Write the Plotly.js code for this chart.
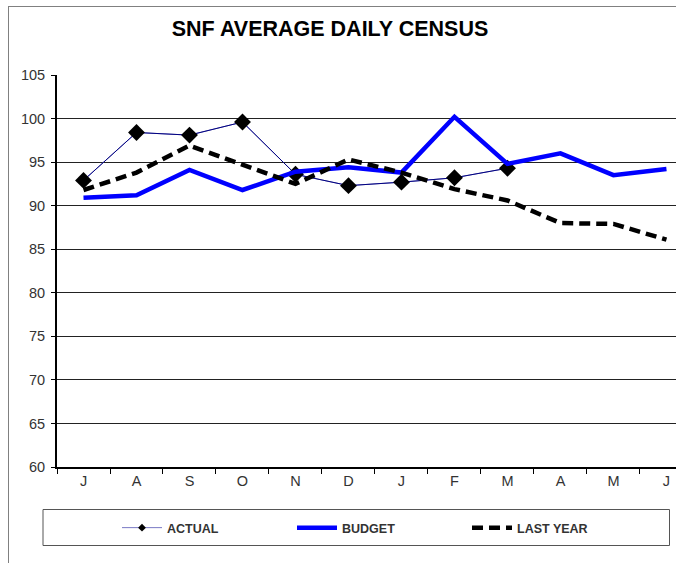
<!DOCTYPE html>
<html>
<head>
<meta charset="utf-8">
<script src="https://cdn.plot.ly/plotly-3.0.1.min.js"></script>
<style>
html,body{margin:0;padding:0;overflow:hidden;background:#fff;}
#wrap{position:relative;width:676px;height:563px;overflow:hidden;}
#chart{position:absolute;left:0;top:0;width:676px;height:563px;}
#frame{position:absolute;left:8px;top:6px;width:800px;height:700px;border-left:1px solid #808080;border-top:1px solid #808080;pointer-events:none;}
</style>
</head>
<body>
<div id="wrap">
<div id="chart"></div>
<div id="frame"></div>
</div>
<script>
var months = ["J","A","S","O","N","D","J ","F","M","A ","M ","J  "];
var monthLabels = ["J","A","S","O","N","D","J","F","M","A","M","J"];
var actual = [92.9, 98.4, 98.1, 99.6, 93.6, 92.3, 92.7, 93.2, 94.3];
var budget = [90.9, 91.2, 94.1, 91.8, 93.9, 94.4, 93.8, 100.2, 94.8, 96.0, 93.5, 94.2];
var lastYear = [91.8, 93.8, 96.9, 94.7, 92.5, 95.3, 93.8, 91.9, 90.6, 88.0, 87.9, 86.1];
var yTicks = [60, 65, 70, 75, 80, 85, 90, 95, 100, 105];

var traces = [
  {x: months.slice(0, actual.length), y: actual, name: "ACTUAL", type: "scatter", mode: "lines+markers",
   legendgroup: "a", showlegend: true,
   line: {color: "#7878c4", width: 1},
   marker: {symbol: "diamond", size: 6, color: "#000000", line: {width: 0}}},
  {x: months.slice(0, actual.length), y: actual, name: "ACTUAL", type: "scatter", mode: "lines+markers",
   legendgroup: "a", showlegend: false,
   line: {color: "#000080", width: 1},
   marker: {symbol: "diamond", size: 13, color: "#000000", line: {width: 0}}},
  {x: months, y: budget, name: "BUDGET", type: "scatter", mode: "lines",
   line: {color: "#0000FF", width: 4.5}},
  {x: months, y: lastYear, name: "LAST YEAR", type: "scatter", mode: "lines",
   line: {color: "#000000", width: 4.5, dash: "11px,6px"}}
];

var layout = {
  width: 676, height: 563,
  paper_bgcolor: "#ffffff", plot_bgcolor: "#ffffff",
  margin: {l: 57, r: 0, t: 75, b: 96, pad: 0},
  font: {family: "Liberation Sans, Arial, sans-serif", color: "#333333"},
  title: {text: "<b>SNF AVERAGE DAILY CENSUS</b>", font: {size: 21.5, color: "#000000"},
          x: 330/676, xref: "container", xanchor: "center", y: 1 - 28/563, yanchor: "middle"},
  xaxis: {type: "category", categoryorder: "array", categoryarray: months,
          tickmode: "array", tickvals: months, ticktext: monthLabels,
          range: [-0.5, 11.18], tickson: "boundaries",
          ticks: "outside", ticklen: 5, tickcolor: "#000", tickwidth: 1,
          showline: true, linecolor: "#000", linewidth: 2,
          showgrid: false, zeroline: false,
          tickfont: {size: 14.5, color: "#333333"}},
  yaxis: {range: [60, 105], tickmode: "array", tickvals: yTicks,
          ticks: "outside", ticklen: 4, tickcolor: "#000", tickwidth: 1,
          showline: true, linecolor: "#000", linewidth: 2,
          showgrid: true, gridcolor: "#222222", gridwidth: 1, zeroline: false,
          ticklabelstandoff: 3,
          tickfont: {size: 14.5, color: "#333333"}},
  showlegend: true,
  legend: {orientation: "h", x: (117 - 57)/619, xanchor: "left", y: 1 - (528 - 75)/392, yanchor: "middle",
           bgcolor: "rgba(0,0,0,0)", borderwidth: 0, entrywidth: 120, entrywidthmode: "pixels",
           itemwidth: 40, traceorder: "normal",
           font: {size: 12.5, color: "#333333", weight: "bold"}},
  shapes: [
    {type: "rect", xref: "paper", yref: "paper",
     x0: (43 - 57)/619, x1: (669.5 - 57)/619, y0: 1 - (545.5 - 75)/392, y1: 1 - (509.5 - 75)/392,
     line: {color: "#555555", width: 1}, fillcolor: "rgba(0,0,0,0)", layer: "below"}
  ]
};

Plotly.newPlot("chart", traces, layout, {staticPlot: true, displayModeBar: false});
</script>
</body>
</html>
